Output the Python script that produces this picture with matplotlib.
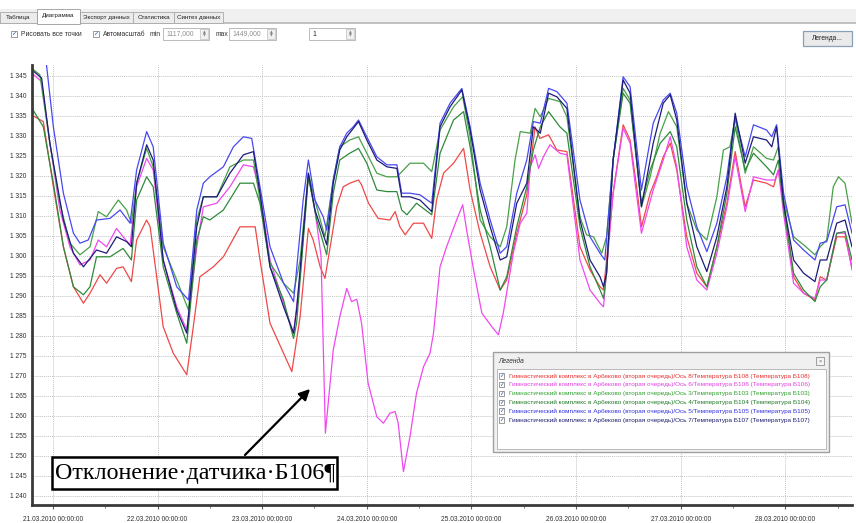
import matplotlib
matplotlib.use("Agg")
import matplotlib.pyplot as plt
import matplotlib.dates as mdates
from matplotlib.patches import Rectangle, FancyArrowPatch
from matplotlib.ticker import FuncFormatter
import pandas as pd

W, H = 856, 523

# (hours from 21.03.2010 00:00, reading) per sensor
b108 = [(-4.8, 1335.2), (-2.2, 1333.6), (0.1, 1317.3), (2.4, 1302.3), (4.7, 1292.3), (7.0, 1288.2),
        (8.5, 1290.7), (10.8, 1295.3), (12.3, 1293.2), (14.6, 1296.9), (16.1, 1297.3), (18.0, 1293.6),
        (19.2, 1304.0), (21.5, 1309.0), (22.3, 1307.3), (23.8, 1294.8), (25.3, 1282.3), (27.6, 1275.7),
        (30.7, 1270.3), (32.2, 1282.3), (33.7, 1294.8), (36.8, 1297.3), (39.1, 1299.8), (42.9, 1307.3),
        (46.4, 1307.3), (47.5, 1299.0), (49.8, 1283.2), (52.9, 1275.7), (54.8, 1271.1), (56.7, 1284.8),
        (58.6, 1306.9), (59.7, 1304.0), (61.3, 1297.3), (62.4, 1294.4), (63.6, 1302.3), (65.1, 1312.3),
        (66.6, 1317.3), (68.1, 1318.2), (70.1, 1319.0), (70.8, 1317.8), (72.4, 1313.2), (74.6, 1309.4),
        (77.3, 1309.0), (78.5, 1311.1), (79.6, 1307.3), (80.8, 1305.3), (82.7, 1308.2), (85.0, 1308.2),
        (86.9, 1304.4), (88.0, 1314.0), (89.6, 1320.7), (91.9, 1323.2), (94.2, 1326.9), (95.7, 1316.5),
        (98.0, 1305.7), (100.3, 1297.3), (102.6, 1291.5), (104.1, 1294.0), (106.4, 1305.7), (108.7, 1315.3),
        (110.6, 1332.3), (111.7, 1329.4), (113.7, 1330.3), (115.6, 1326.5), (117.9, 1326.1), (120.9, 1302.3),
        (123.2, 1296.5), (125.5, 1292.3), (126.3, 1291.5), (127.0, 1299.0), (128.5, 1315.7), (130.8, 1332.8),
        (132.4, 1329.0), (133.9, 1317.3), (135.0, 1307.3), (137.0, 1315.7), (138.5, 1319.8), (140.0, 1324.8),
        (141.6, 1328.2), (143.1, 1321.5), (145.4, 1304.8), (147.7, 1295.7), (150.0, 1292.3), (152.3, 1302.3),
        (154.6, 1313.2), (156.5, 1326.1), (158.8, 1312.3), (160.7, 1319.0), (163.7, 1318.2), (165.3, 1317.3),
        (166.4, 1321.5), (167.6, 1314.0), (169.9, 1294.8), (172.2, 1290.7), (174.8, 1289.0), (176.0, 1294.8),
        (177.5, 1294.0), (179.8, 1304.8), (181.7, 1304.8), (183.3, 1297.3)]

b106 = [(-4.8, 1345.7), (-2.6, 1343.6), (-0.7, 1328.2), (1.6, 1311.5), (3.9, 1302.3), (6.2, 1297.8),
        (8.5, 1299.0), (10.4, 1304.0), (12.3, 1302.3), (14.6, 1306.9), (16.1, 1304.8), (17.7, 1302.8),
        (19.2, 1317.3), (21.5, 1324.4), (23.0, 1321.5), (25.3, 1299.0), (28.4, 1287.3), (30.7, 1281.5),
        (33.0, 1302.3), (34.5, 1312.3), (37.6, 1313.2), (40.6, 1317.3), (43.7, 1322.8), (46.0, 1322.3),
        (47.5, 1315.7), (49.8, 1299.0), (52.9, 1288.2), (55.2, 1280.7), (56.7, 1295.0), (58.6, 1320.3),
        (60.1, 1311.5), (61.5, 1300.0), (62.5, 1255.7), (64.3, 1276.5), (65.8, 1284.8), (67.4, 1291.9),
        (68.5, 1288.6), (69.7, 1289.2), (70.8, 1283.2), (72.3, 1268.2), (74.3, 1259.8), (75.8, 1258.2),
        (77.3, 1260.7), (78.5, 1261.1), (79.2, 1258.2), (80.4, 1246.1), (81.9, 1254.8), (83.4, 1265.7),
        (85.0, 1272.3), (86.5, 1275.7), (87.3, 1280.7), (88.8, 1297.3), (90.3, 1302.3), (92.6, 1309.0),
        (94.0, 1312.8), (94.9, 1306.5), (96.5, 1296.5), (98.4, 1285.7), (100.7, 1282.3), (102.2, 1280.3),
        (103.3, 1285.7), (105.6, 1300.7), (107.2, 1308.2), (108.7, 1310.7), (109.5, 1322.3), (110.6, 1325.3),
        (111.4, 1321.9), (112.5, 1324.8), (114.0, 1327.8), (116.3, 1325.7), (117.9, 1325.3), (120.9, 1299.0),
        (123.2, 1291.5), (125.5, 1288.2), (126.3, 1287.3), (128.5, 1315.7), (130.8, 1331.9), (132.4, 1328.2),
        (135.0, 1305.7), (137.7, 1316.5), (140.0, 1324.0), (141.6, 1329.8), (143.1, 1322.3), (145.4, 1302.3),
        (147.7, 1294.0), (150.0, 1291.5), (152.3, 1300.7), (154.6, 1312.3), (156.5, 1324.8), (158.8, 1311.1),
        (160.7, 1319.8), (163.7, 1319.0), (165.6, 1319.0), (166.4, 1321.5), (167.6, 1310.7), (169.9, 1293.2),
        (172.2, 1290.7), (174.8, 1289.4), (176.0, 1294.0), (177.5, 1294.0), (179.8, 1305.7), (181.7, 1305.7),
        (183.3, 1296.5)]

b103 = [(-4.8, 1346.9), (-3.0, 1345.3), (-0.7, 1328.2), (1.6, 1313.2), (3.9, 1303.2), (6.2, 1300.3),
        (8.5, 1302.3), (10.4, 1311.1), (12.3, 1309.8), (15.0, 1314.0), (16.9, 1311.5), (18.0, 1308.2),
        (19.2, 1318.2), (21.5, 1326.9), (23.0, 1322.3), (25.3, 1302.3), (28.4, 1294.0), (31.1, 1286.5),
        (33.0, 1309.0), (34.5, 1314.8), (37.6, 1314.8), (40.6, 1322.3), (43.7, 1324.0), (46.0, 1324.0),
        (47.5, 1314.0), (49.8, 1298.2), (52.9, 1293.2), (55.2, 1290.7), (56.7, 1299.0), (58.6, 1320.7),
        (60.5, 1312.3), (62.4, 1304.8), (64.3, 1319.0), (65.8, 1327.3), (68.1, 1329.0), (70.1, 1329.8),
        (72.0, 1325.7), (74.3, 1320.7), (76.6, 1319.8), (78.9, 1319.8), (81.9, 1323.2), (85.0, 1323.2),
        (86.9, 1321.1), (88.8, 1331.5), (91.9, 1337.3), (94.0, 1339.8), (95.7, 1329.8), (98.0, 1309.0),
        (100.3, 1304.8), (102.6, 1302.3), (104.1, 1307.3), (106.0, 1324.0), (107.2, 1331.1), (109.5, 1330.7),
        (110.6, 1336.9), (111.8, 1334.8), (113.7, 1339.4), (116.3, 1338.6), (117.9, 1334.8), (120.9, 1309.8),
        (122.4, 1305.3), (124.0, 1304.8), (125.9, 1300.7), (127.0, 1304.8), (128.5, 1324.0), (130.8, 1341.9),
        (132.4, 1339.0), (135.0, 1312.3), (137.0, 1319.8), (139.3, 1330.7), (141.2, 1336.1), (143.1, 1332.3),
        (145.4, 1313.2), (147.7, 1306.5), (150.0, 1304.0), (152.3, 1314.8), (153.8, 1326.5), (155.3, 1327.3),
        (156.5, 1334.4), (158.8, 1320.7), (160.7, 1327.3), (163.7, 1324.4), (165.3, 1324.0), (166.4, 1327.3),
        (167.6, 1314.0), (169.9, 1304.8), (172.2, 1302.8), (174.8, 1300.3), (176.0, 1302.3), (177.5, 1304.0),
        (179.0, 1317.3), (180.2, 1319.8), (181.7, 1318.2), (183.3, 1308.2)]

b104 = [(-4.8, 1336.9), (-2.2, 1332.3), (0.1, 1318.2), (2.4, 1302.3), (4.7, 1292.3), (7.0, 1290.3),
        (8.5, 1292.3), (10.0, 1299.8), (13.1, 1299.8), (16.1, 1301.9), (18.0, 1299.0), (19.2, 1314.0),
        (21.5, 1319.8), (23.0, 1317.3), (25.3, 1297.3), (28.4, 1285.7), (30.7, 1278.2), (33.0, 1304.0),
        (34.5, 1309.8), (36.0, 1309.0), (39.1, 1311.5), (42.9, 1318.2), (46.0, 1318.2), (47.5, 1313.2),
        (49.8, 1297.3), (52.9, 1289.0), (55.2, 1279.4), (55.9, 1283.2), (58.6, 1319.8), (60.5, 1309.0),
        (62.8, 1300.3), (64.3, 1315.7), (65.8, 1324.0), (68.1, 1325.7), (70.1, 1326.9), (72.0, 1323.2),
        (74.3, 1316.5), (76.6, 1316.1), (78.9, 1316.1), (80.0, 1311.5), (81.2, 1310.3), (83.4, 1313.2),
        (86.9, 1310.3), (88.8, 1325.7), (91.9, 1334.0), (94.2, 1336.1), (95.7, 1327.3), (98.0, 1311.5),
        (100.3, 1302.3), (102.6, 1291.5), (104.1, 1294.8), (106.4, 1307.3), (108.7, 1317.3), (110.2, 1326.5),
        (111.8, 1332.3), (113.7, 1336.1), (116.3, 1332.3), (117.9, 1330.7), (120.9, 1307.3), (123.2, 1297.3),
        (125.5, 1291.5), (126.3, 1289.4), (127.0, 1295.7), (128.5, 1324.0), (130.8, 1340.7), (132.4, 1338.2),
        (135.0, 1313.2), (137.0, 1321.5), (139.3, 1328.2), (141.6, 1331.1), (143.1, 1327.3), (145.4, 1309.0),
        (147.7, 1297.3), (150.0, 1292.3), (152.3, 1302.3), (154.6, 1315.7), (156.5, 1332.3), (158.8, 1321.5),
        (160.7, 1325.7), (163.7, 1322.3), (165.3, 1320.3), (166.4, 1324.0), (167.6, 1312.3), (169.9, 1295.7),
        (172.2, 1291.5), (174.8, 1288.6), (176.0, 1292.3), (177.5, 1294.0), (179.8, 1305.7), (181.7, 1306.1),
        (183.3, 1299.0)]

b105 = [(-4.8, 1358.0), (-1.6, 1349.0), (0.1, 1332.3), (2.4, 1315.7), (4.7, 1305.7), (6.2, 1303.2),
        (8.1, 1304.0), (10.0, 1309.0), (13.1, 1309.4), (15.4, 1311.5), (17.7, 1308.2), (19.2, 1321.5),
        (21.5, 1331.1), (23.0, 1327.3), (25.3, 1303.2), (28.4, 1292.3), (31.1, 1289.0), (33.0, 1311.5),
        (34.5, 1318.2), (36.0, 1319.8), (39.1, 1322.3), (41.4, 1327.3), (43.7, 1329.8), (45.6, 1329.4),
        (47.5, 1317.3), (49.8, 1302.3), (52.9, 1293.2), (55.2, 1288.6), (57.4, 1314.0), (58.6, 1324.0),
        (60.1, 1314.0), (62.0, 1309.8), (62.8, 1306.5), (64.3, 1319.0), (65.8, 1327.3), (67.4, 1330.7),
        (68.9, 1332.3), (70.1, 1334.0), (72.0, 1329.8), (74.3, 1324.8), (76.6, 1322.8), (78.9, 1322.8),
        (80.0, 1315.7), (81.9, 1315.7), (84.2, 1315.3), (86.9, 1313.2), (88.8, 1333.2), (91.1, 1338.2),
        (93.8, 1341.9), (95.7, 1332.3), (98.0, 1318.2), (100.3, 1309.0), (102.6, 1300.7), (104.1, 1302.3),
        (106.4, 1315.7), (108.7, 1324.0), (110.2, 1333.6), (111.8, 1333.2), (113.7, 1341.9), (115.6, 1341.1),
        (117.9, 1338.2), (120.9, 1314.0), (123.2, 1304.8), (125.5, 1300.7), (126.6, 1299.0), (128.5, 1324.0),
        (130.8, 1344.8), (132.4, 1342.3), (135.0, 1316.5), (137.7, 1333.2), (140.0, 1339.0), (141.6, 1340.7),
        (143.1, 1335.7), (145.4, 1317.3), (147.7, 1307.3), (150.0, 1301.1), (152.3, 1308.2), (154.6, 1319.8),
        (156.5, 1334.8), (158.8, 1324.8), (160.7, 1332.8), (163.7, 1331.5), (164.9, 1329.8), (166.0, 1332.8),
        (167.6, 1315.7), (169.9, 1304.0), (172.2, 1301.5), (174.8, 1299.0), (176.0, 1303.2), (177.5, 1303.6),
        (179.8, 1312.3), (181.7, 1312.8), (183.3, 1305.7)]

b107 = [(-4.8, 1346.5), (-2.6, 1344.5), (-0.7, 1328.2), (2.4, 1309.0), (4.7, 1300.7), (7.0, 1297.3),
        (10.0, 1301.5), (12.3, 1300.7), (14.6, 1304.8), (16.9, 1303.6), (18.0, 1302.3), (19.2, 1318.2),
        (21.5, 1327.8), (23.0, 1324.0), (25.3, 1299.0), (28.4, 1286.5), (30.7, 1280.7), (33.0, 1307.3),
        (34.5, 1314.8), (37.6, 1314.8), (40.6, 1320.7), (43.7, 1325.3), (46.0, 1326.1), (47.5, 1315.7),
        (49.8, 1297.3), (52.9, 1287.3), (55.2, 1280.7), (55.9, 1286.5), (58.6, 1320.7), (60.1, 1311.5),
        (62.8, 1302.8), (64.3, 1318.2), (65.8, 1326.5), (67.4, 1329.8), (70.1, 1333.6), (72.0, 1329.0),
        (74.3, 1324.0), (76.6, 1322.3), (78.9, 1321.9), (80.0, 1314.8), (81.9, 1314.8), (84.2, 1314.0),
        (86.9, 1311.1), (88.8, 1332.3), (91.1, 1337.3), (93.8, 1341.5), (95.7, 1331.5), (98.0, 1316.5),
        (100.3, 1307.3), (102.6, 1299.0), (104.1, 1299.8), (106.4, 1313.2), (108.7, 1318.2), (110.2, 1332.3),
        (111.8, 1330.7), (113.7, 1340.7), (115.6, 1339.8), (117.9, 1336.9), (120.9, 1309.0), (123.2, 1299.0),
        (125.5, 1294.8), (126.3, 1292.3), (127.0, 1295.7), (128.5, 1324.0), (130.8, 1344.0), (132.4, 1340.7),
        (135.0, 1312.3), (137.7, 1328.2), (140.0, 1338.2), (141.6, 1340.3), (143.1, 1334.0), (145.4, 1313.2),
        (147.7, 1302.3), (150.0, 1296.1), (152.3, 1304.8), (154.6, 1317.3), (156.5, 1335.7), (158.8, 1323.2),
        (160.7, 1329.8), (163.7, 1329.0), (164.9, 1327.3), (166.0, 1332.3), (167.6, 1313.2), (169.9, 1299.0),
        (172.2, 1295.7), (174.8, 1293.6), (176.0, 1299.0), (177.5, 1299.0), (179.8, 1308.2), (181.7, 1309.0),
        (183.3, 1302.3)]

series_names = [
    "Гимнастический комплекс в Арбеково (вторая очередь)/Ось 8/Температура Б108 (Температура Б108)",
    "Гимнастический комплекс в Арбеково (вторая очередь)/Ось 6/Температура Б106 (Температура Б106)",
    "Гимнастический комплекс в Арбеково (вторая очередь)/Ось 3/Температура Б103 (Температура Б103)",
    "Гимнастический комплекс в Арбеково (вторая очередь)/Ось 4/Температура Б104 (Температура Б104)",
    "Гимнастический комплекс в Арбеково (вторая очередь)/Ось 5/Температура Б105 (Температура Б105)",
    "Гимнастический комплекс в Арбеково (вторая очередь)/Ось 7/Температура Б107 (Температура Б107)",
]
series_data = [b108, b106, b103, b104, b105, b107]
line_colors = ["#f04848", "#f048f0", "#48a048", "#2f8a3a", "#4848f0", "#1c1c78"]
text_colors = ["#e83030", "#e040e0", "#30a030", "#207a28", "#3030e0", "#1c1c70"]

tab_labels = ["Таблица", "Диаграмма", "Экспорт данных", "Статистика", "Синтез данных"]
tab_edges = [0, 37, 80, 133, 174, 223]
y_ticks = list(range(1240, 1346, 5))
annotation_text = "Отклонение·датчика·Б106¶"

base = pd.Timestamp("2010-03-21")
x_start, x_end = -4.8, 183.3
y_lo, y_hi = 1237.75, 1347.75

plt.rcParams["font.family"] = ["Liberation Sans", "DejaVu Sans"]
UI_FS = 4.9


def fx(x):
    return x / W


def fy(y):
    return 1 - y / H


def box(fig, x0, y0, x1, y1, fc="white", ec="#a0a0a0", lw=0.8, z=1):
    fig.patches.append(Rectangle((fx(x0), fy(y1)), (x1 - x0) / W, (y1 - y0) / H,
                                 transform=fig.transFigure, facecolor=fc, edgecolor=ec,
                                 linewidth=lw, zorder=z))


def checkbox(fig, x, y, size=6, z=2):
    box(fig, x, y, x + size, y + size, fc="white", ec="#8a8a8a", lw=0.6, z=z)
    fig.text(fx(x + size / 2), fy(y + size / 2), "✓", fontsize=size * 0.75, color="#2050b0",
             ha="center", va="center", family=["DejaVu Sans"], zorder=z + 1)


def spinbox(fig, x0, x1, y0, y1, label, color):
    box(fig, x0, y0, x1, y1, fc="white", ec="#b0b0b0", lw=0.6)
    box(fig, x1 - 9, y0 + 1, x1 - 1, y1 - 1, fc="#f0f0f0", ec="#c0c0c0", lw=0.5, z=2)
    fig.text(fx(x1 - 5), fy(y0 + 4.5), "▲", fontsize=2.6, color="#808080", ha="center", va="center",
             family=["DejaVu Sans"], zorder=3)
    fig.text(fx(x1 - 5), fy(y1 - 4.5), "▼", fontsize=2.6, color="#808080", ha="center", va="center",
             family=["DejaVu Sans"], zorder=3)
    fig.text(fx(x0 + 3), fy((y0 + y1) / 2), label, fontsize=UI_FS, color=color, va="center", zorder=3)


fig = plt.figure(figsize=(W / 100, H / 100), dpi=100)
fig.patch.set_facecolor("white")

# tab strip
box(fig, 0, 9, W, 23, fc="#f0f0f0", ec="none", lw=0)
fig.lines.append(plt.Line2D([0, 1], [fy(23), fy(23)], transform=fig.transFigure, color="#b8b8b8", lw=1.2))
for i, lab in enumerate(tab_labels):
    x0, x1 = tab_edges[i], tab_edges[i + 1]
    if i == 1:
        box(fig, x0, 9, x1, 24, fc="white", ec="#9a9a9a", lw=0.6, z=3)
        ty = 16
    else:
        box(fig, x0, 12, x1, 23, fc="#ececec", ec="#a8a8a8", lw=0.6, z=2)
        ty = 17.5
    fig.text(fx((x0 + x1) / 2), fy(ty), lab, fontsize=4.5, color="#202020", ha="center", va="center", zorder=4)

# toolbar
checkbox(fig, 11, 31)
fig.text(fx(21), fy(34), "Рисовать все точки", fontsize=UI_FS, color="#303030", va="center")
checkbox(fig, 93, 31)
fig.text(fx(103), fy(34), "Автомасштаб", fontsize=UI_FS, color="#303030", va="center")
fig.text(fx(150), fy(34), "min", fontsize=UI_FS, color="#303030", va="center")
spinbox(fig, 163, 209, 28, 40, "1117,000", "#909090")
fig.text(fx(216), fy(34), "max", fontsize=UI_FS, color="#303030", va="center")
spinbox(fig, 229, 276, 28, 40, "1449,000", "#909090")
spinbox(fig, 309, 355, 28, 40, "1", "#202020")
box(fig, 803, 31, 852, 46, fc="#eaeaea", ec="#8aa0b8", lw=0.9)
fig.text(fx(827.5), fy(38.5), "Легенда...", fontsize=4.8, color="#202020", ha="center", va="center", zorder=3)

# chart
ax = fig.add_axes([fx(32), fy(505), (852 - 32) / W, (505 - 65) / H])
for pts, col in zip(series_data, line_colors):
    hours = [p[0] for p in pts]
    vals = [p[1] for p in pts]
    t = base + pd.to_timedelta(hours, unit="h")
    ax.plot(t, vals, color=col, linewidth=0.9)

ax.set_xlim(base + pd.Timedelta(hours=x_start), base + pd.Timedelta(hours=x_end))
ax.set_ylim(y_lo, y_hi)
ax.set_yticks(y_ticks)
ax.yaxis.set_major_formatter(FuncFormatter(lambda v, _: f"{int(v):,}".replace(",", " ")))
ax.xaxis.set_major_locator(mdates.DayLocator())
ax.xaxis.set_minor_locator(mdates.HourLocator(byhour=[12]))
ax.xaxis.set_major_formatter(mdates.DateFormatter("%d.%m.%Y %H:%M:%S"))
ax.tick_params(axis="y", length=0, pad=4, labelsize=4.8, labelcolor="#303030")
ax.tick_params(axis="x", which="major", length=3, pad=5, labelsize=4.8, labelcolor="#303030", color="#606060")
ax.tick_params(axis="x", which="minor", length=2, color="#606060")
ax.grid(True, which="major", color="#c4c4c4", linestyle=(0, (1, 1)), linewidth=0.7)
for side in ["top", "right"]:
    ax.spines[side].set_visible(False)
for side in ["left", "bottom"]:
    ax.spines[side].set_color("#3a3a3a")
    ax.spines[side].set_linewidth(2.0)

# legend panel
box(fig, 493, 352, 829, 452, fc="#f0f0f0", ec="#a0a0a0", lw=1.0, z=5)
fig.text(fx(498), fy(361.5), "Легенда", fontsize=4.8, color="#303030", va="center", style="italic", zorder=6)
box(fig, 816, 357, 824, 365, fc="#f4f4f4", ec="#909090", lw=0.6, z=6)
fig.text(fx(820), fy(361), "×", fontsize=4, color="#606060", ha="center", va="center", zorder=7)
box(fig, 497, 369, 826, 449, fc="white", ec="#b0b0b0", lw=0.6, z=6)
for i, (name, col) in enumerate(zip(series_names, text_colors)):
    ry = 376 + i * 8.8
    checkbox(fig, 499, ry - 2.8, size=5.4, z=7)
    fig.text(fx(509), fy(ry), name, fontsize=4.6, color=col, va="center", zorder=8)

# annotation
box(fig, 52, 457, 337, 489, fc="white", ec="black", lw=1.8, z=8)
fig.text(fx(55), fy(473.5), annotation_text, fontsize=17.3, color="black", va="center",
         family=["Liberation Serif", "DejaVu Serif"], zorder=9)
fig.patches.append(FancyArrowPatch((fx(243), fy(457)), (fx(312), fy(387)), transform=fig.transFigure,
                                   arrowstyle="-|>", mutation_scale=16, linewidth=1.6, color="black",
                                   zorder=9))

fig.savefig("out.png", dpi=100)
